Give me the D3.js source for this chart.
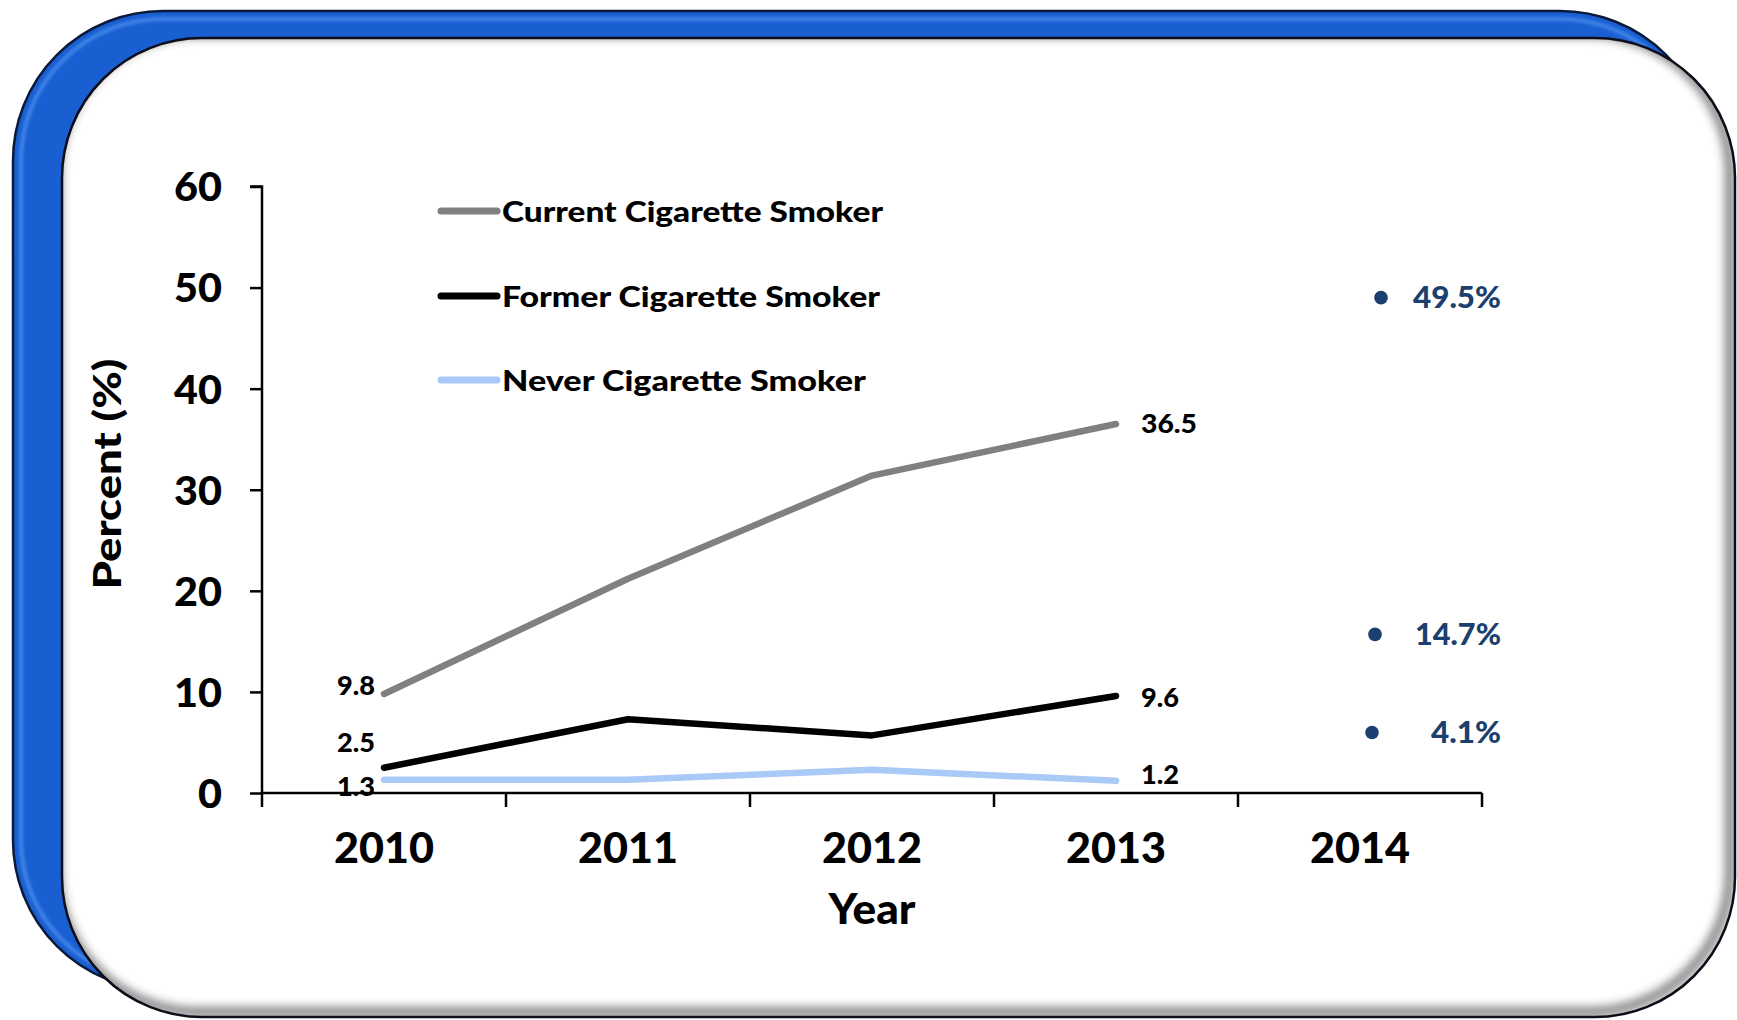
<!DOCTYPE html>
<html><head><meta charset="utf-8">
<script src="https://cdn.jsdelivr.net/npm/d3@7"></script>
<style>html,body{margin:0;padding:0;background:#fff;overflow:hidden}</style>
</head><body>
<svg id="chart" width="1737" height="1020"></svg>
<script>
// ---- data ----
const years = ["2010", "2011", "2012", "2013", "2014"];
const seriesNames = ["Current Cigarette Smoker", "Former Cigarette Smoker", "Never Cigarette Smoker"];
const currentSmoker = [9.8, 21.2, 31.4, 36.5];
const formerSmoker = [2.5, 7.3, 5.7, 9.6];
const neverSmoker = [1.3, 1.3, 2.3, 1.2];
const yTicks = [0, 10, 20, 30, 40, 50, 60];
const year2014Values = [49.5, 14.7, 4.1];
const year2014Labels = ["49.5%", "14.7%", "4.1%"];

const colors = ["#808080", "#000000", "#a9c9f7"];
const font = "Lato, 'Open Sans', sans-serif";
const W = 900;

const svg = d3.select("#chart");
const defs = svg.append("defs");

// fit text to the width measured in the reference
function fit(sel, widthFn) {
  sel.each(function () {
    const t = d3.select(this);
    t.attr("textLength", widthFn(t.text(), t.text().length)).attr("lengthAdjust", "spacingAndGlyphs");
  });
}

// ---- frame ----
defs.append("filter").attr("id", "blur5").attr("x", "-10%").attr("y", "-10%").attr("width", "120%").attr("height", "120%")
  .append("feGaussianBlur").attr("stdDeviation", 5);
defs.append("filter").attr("id", "blur2")
  .append("feGaussianBlur").attr("stdDeviation", 1.5);
const card = {x: 62, y: 38, w: 1673, h: 979, r: 140};
defs.append("clipPath").attr("id", "cardClip").append("rect")
  .attr("x", card.x).attr("y", card.y).attr("width", card.w).attr("height", card.h).attr("rx", card.r);

svg.append("rect").attr("x", 13).attr("y", 11).attr("width", 1697).attr("height", 979).attr("rx", 150)
  .attr("fill", "#1a5fd1").attr("stroke", "#0a1a3a").attr("stroke-width", 2.5);
svg.append("rect").attr("x", 21).attr("y", 19).attr("width", 1681).attr("height", 963).attr("rx", 142)
  .attr("fill", "none").attr("stroke", "#4f95f3").attr("stroke-width", 4).attr("opacity", 0.7)
  .attr("filter", "url(#blur2)");
svg.append("rect").attr("x", card.x).attr("y", card.y).attr("width", card.w).attr("height", card.h).attr("rx", card.r)
  .attr("fill", "#ffffff");
svg.append("g").attr("clip-path", "url(#cardClip)")
  .append("rect").attr("x", card.x - 5).attr("y", card.y - 5).attr("width", card.w).attr("height", card.h).attr("rx", card.r)
  .attr("fill", "none").attr("stroke", "#333").attr("stroke-width", 10).attr("opacity", 0.6)
  .attr("filter", "url(#blur5)");
svg.append("rect").attr("x", card.x).attr("y", card.y).attr("width", card.w).attr("height", card.h).attr("rx", card.r)
  .attr("fill", "none").attr("stroke", "#0d0d1a").attr("stroke-width", 2.5);

// ---- scales ----
const x = d3.scaleBand().domain(years).range([262, 1482]).padding(0);
const xc = d => x(d) + x.bandwidth() / 2;
const y = d3.scaleLinear().domain([0, 60]).range([793, 186.5]);

// ---- axes ----
const yAxis = svg.append("g").attr("transform", `translate(${x.range()[0]},0)`)
  .call(d3.axisLeft(y).tickValues(yTicks).tickSize(12).tickPadding(28).tickFormat(d3.format("d")));
yAxis.select(".domain").attr("stroke", "#000").attr("stroke-width", 2.5).attr("d", `M-12,${y(60)}H0V${y(0)}`);
yAxis.selectAll(".tick line").attr("stroke", "#000").attr("stroke-width", 2.5);
yAxis.selectAll("text").attr("font-family", font).attr("font-weight", W).attr("font-size", 40).attr("fill", "#000")
  .attr("dy", "0.36em");
fit(yAxis.selectAll("text"), (s, n) => n * 24);

const xAxis = svg.append("g").attr("transform", `translate(0,${y(0)})`)
  .call(d3.axisBottom(x).tickSize(0).tickPadding(0));
xAxis.select(".domain").attr("stroke", "#000").attr("stroke-width", 2.5).attr("d", `M${x.range()[0]},0H${x.range()[1]}`);
xAxis.selectAll("text").attr("y", 70).attr("dy", 0)
  .attr("font-family", font).attr("font-weight", W).attr("font-size", 42).attr("fill", "#000");
fit(xAxis.selectAll("text"), () => 100);
const bounds = years.map(d => x(d)).concat([x.range()[1]]);
xAxis.selectAll(".bound").data(bounds).join("line").attr("class", "bound")
  .attr("x1", d => d).attr("x2", d => d).attr("y1", 0).attr("y2", 14)
  .attr("stroke", "#000").attr("stroke-width", 2.5);

// axis titles
svg.append("text").attr("x", (x.range()[0] + x.range()[1]) / 2).attr("y", 924)
  .attr("text-anchor", "middle").attr("font-family", font).attr("font-weight", W).attr("font-size", 42)
  .attr("textLength", 87).attr("lengthAdjust", "spacingAndGlyphs")
  .text("Year");
svg.append("text").attr("transform", "translate(121,474) rotate(-90)")
  .attr("text-anchor", "middle").attr("font-family", font).attr("font-weight", W).attr("font-size", 38)
  .attr("textLength", 231).attr("lengthAdjust", "spacingAndGlyphs")
  .text("Percent (%)");

// ---- lines ----
const allSeries = [currentSmoker, formerSmoker, neverSmoker];
const line = d3.line().x((d, i) => xc(years[i])).y(d => y(d));
svg.append("g").selectAll("path").data(allSeries).join("path")
  .attr("d", d => line(d)).attr("fill", "none")
  .attr("stroke", (d, i) => colors[i]).attr("stroke-width", 6.5)
  .attr("stroke-linecap", "round").attr("stroke-linejoin", "round");

// ---- data labels (first and last points) ----
const firstDy = [-8, -25, 7];
const lastDy = [0, 2, -6];
const lbl = svg.append("g").attr("font-family", font).attr("font-weight", W).attr("font-size", 26).attr("fill", "#000");
allSeries.forEach((s, i) => {
  lbl.append("text").attr("x", xc(years[0]) - 9).attr("y", y(s[0]) + firstDy[i])
    .attr("dy", "0.36em").attr("text-anchor", "end").text(d3.format(".1f")(s[0]));
  const n = s.length - 1;
  lbl.append("text").attr("x", xc(years[n]) + 25).attr("y", y(s[n]) + lastDy[i])
    .attr("dy", "0.36em").attr("text-anchor", "start").text(d3.format(".1f")(s[n]));
});
fit(lbl.selectAll("text"), (s, n) => n === 3 ? 38 : 56);

// ---- 2014 bullet annotations ----
const bDx = [21, 15, 12];
const bDy = [5, -10, -19];
const annW = [88, 86, 70];
const ann = svg.append("g");
year2014Values.forEach((v, i) => {
  const cy = y(v) + bDy[i];
  ann.append("circle").attr("cx", xc(years[4]) + bDx[i]).attr("cy", cy).attr("r", 6.8).attr("fill", "#1b3f6e");
  ann.append("text").attr("x", 1501).attr("y", cy).attr("dy", "0.36em").attr("text-anchor", "end")
    .attr("font-family", font).attr("font-weight", W).attr("font-size", 30).attr("fill", "#1b3f6e")
    .attr("textLength", annW[i]).attr("lengthAdjust", "spacingAndGlyphs")
    .text(year2014Labels[i]);
});

// ---- legend ----
const legY = [211, 296, 380];
const legW = [381, 378, 364];
const leg = svg.append("g");
seriesNames.forEach((name, i) => {
  leg.append("line").attr("x1", 441).attr("x2", 497).attr("y1", legY[i]).attr("y2", legY[i])
    .attr("stroke", colors[i]).attr("stroke-width", 7).attr("stroke-linecap", "round");
  leg.append("text").attr("x", 502).attr("y", legY[i]).attr("dy", "0.38em")
    .attr("font-family", font).attr("font-weight", W).attr("font-size", 28).attr("fill", "#000")
    .attr("textLength", legW[i]).attr("lengthAdjust", "spacingAndGlyphs")
    .text(name);
});
</script></body></html>
